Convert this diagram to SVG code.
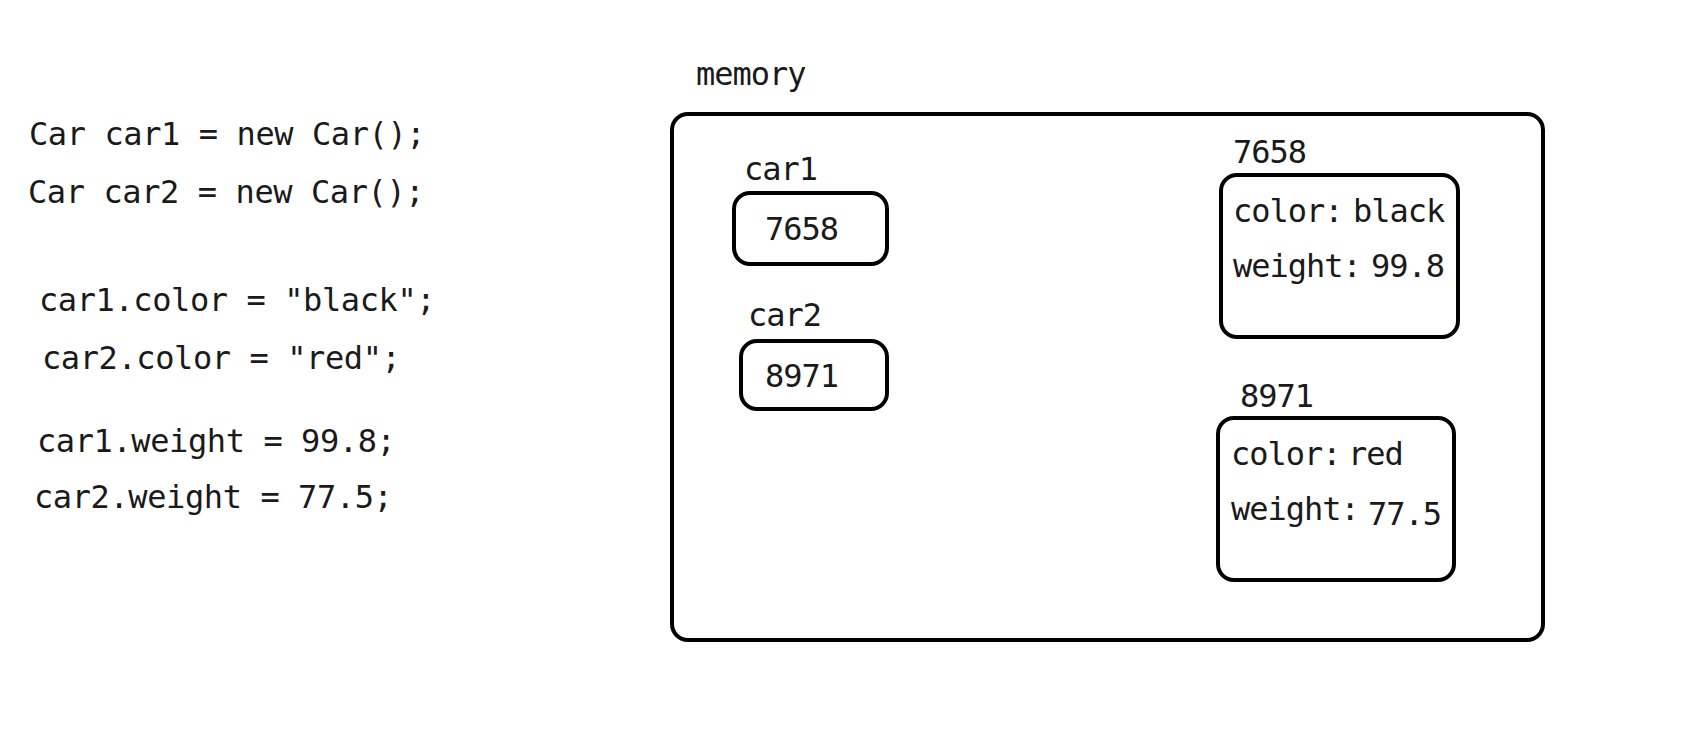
<svg xmlns="http://www.w3.org/2000/svg" width="1708" height="743" viewBox="0 0 1708 743">
<style>
text{font-family:"DejaVu Sans Mono","Liberation Mono",monospace;font-size:32px;letter-spacing:-1px;fill:#1a1a1a}
#code text{letter-spacing:-0.4px}
.box{fill:none;stroke:#000;stroke-width:4}
</style>
<rect width="1708" height="743" fill="#fff"/>
<g id="code">
<text x="29" y="145">Car car1 = new Car();</text>
<text x="28" y="203">Car car2 = new Car();</text>
<text x="39" y="311">car1.color = "black";</text>
<text x="42" y="369">car2.color = "red";</text>
<text x="37" y="452">car1.weight = 99.8;</text>
<text x="34" y="508">car2.weight = 77.5;</text>
</g>
<g id="memory">
<text x="696" y="85">memory</text>
<rect class="box" x="672" y="114" width="871" height="526" rx="16"/>
</g>
<g id="car1">
<text x="744" y="180">car1</text>
<rect class="box" x="734" y="193" width="153" height="71" rx="16"/>
<text x="765" y="240">7658</text>
</g>
<g id="car2">
<text x="748" y="326">car2</text>
<rect class="box" x="741" y="341" width="146" height="68" rx="16"/>
<text x="765" y="387">8971</text>
</g>
<g id="obj7658">
<text x="1233" y="163">7658</text>
<rect class="box" x="1221" y="175" width="237" height="162" rx="16"/>
<text x="1233" y="222">color:</text>
<text x="1353" y="222">black</text>
<text x="1233" y="277">weight:</text>
<text x="1371" y="277">99.8</text>
</g>
<g id="obj8971">
<text x="1240" y="407">8971</text>
<rect class="box" x="1218" y="418" width="236" height="162" rx="16"/>
<text x="1231" y="465">color:</text>
<text x="1348" y="465">red</text>
<text x="1231" y="520">weight:</text>
<text x="1368" y="525">77.5</text>
</g>
<g id="connectors"></g>
</svg>
